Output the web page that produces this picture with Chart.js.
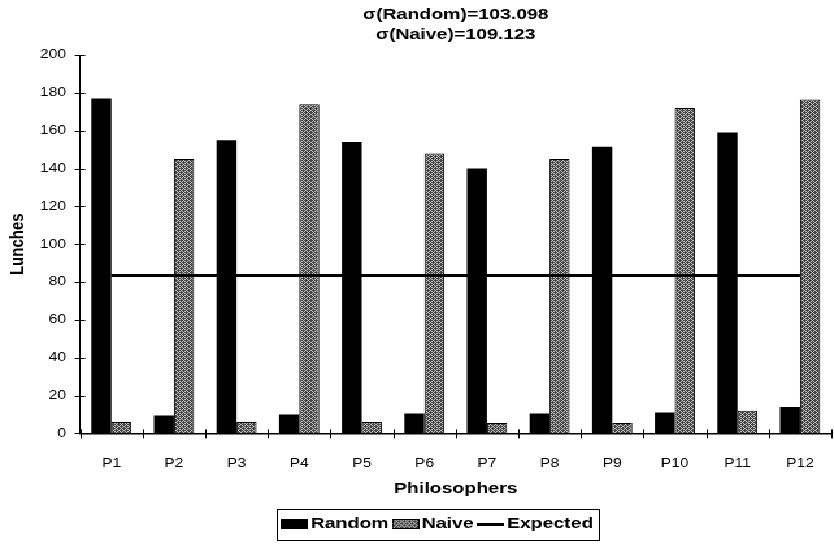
<!DOCTYPE html>
<html>
<head>
<meta charset="utf-8">
<script src="https://cdn.jsdelivr.net/npm/chart.js@4.4.1/dist/chart.umd.min.js"></script>
<style>
  html, body { margin: 0; padding: 0; background: #fff; overflow: hidden; }
  /* the chart is laid out narrow and widened horizontally, giving the broad lettering */
  #c { display: block; transform: scaleX(1.299); transform-origin: 0 0; image-rendering: pixelated; }
</style>
</head>
<body>
<canvas id="c" width="642" height="550"></canvas>
<script>
// ---- data ----
const philosophers = ['P1', 'P2', 'P3', 'P4', 'P5', 'P6', 'P7', 'P8', 'P9', 'P10', 'P11', 'P12'];
const randomLunches = [177, 9.5, 155, 10, 154, 10.5, 140, 10.5, 151.5, 11, 159, 14];
const naiveLunches = [6, 145, 6, 174, 6, 148, 5.5, 145, 5.5, 172, 12, 176.5];
const expectedLunches = [83.5, 83.5, 83.5, 83.5, 83.5, 83.5, 83.5, 83.5, 83.5, 83.5, 83.5, 83.5];
const titleLines = ['σ(Random)=103.098', 'σ(Naive)=109.123'];
const seriesNames = ['Random', 'Naive', 'Expected'];
const axisTitles = { x: 'Philosophers', y: 'Lunches' };

const FONT = "'Liberation Sans', Arial, Helvetica, sans-serif";

// grey dither fill for the Naive bars
function ditherPattern() {
  const p = document.createElement('canvas');
  p.width = 4; p.height = 4;
  const g = p.getContext('2d');
  g.fillStyle = '#bdbdbd';
  g.fillRect(0, 0, 4, 4);
  g.fillStyle = '#454545';
  [[0, 0], [2, 0], [1, 1], [3, 1], [0, 2], [2, 2], [1, 3], [3, 3], [3, 0], [1, 2]].forEach(([x, y]) => g.fillRect(x, y, 1, 1));
  return g.createPattern(p, 'repeat');
}
const naiveFill = ditherPattern();

// legend markers
function marker(w, h, fill, stroke) {
  const m = document.createElement('canvas');
  m.width = w; m.height = h;
  const g = m.getContext('2d');
  g.fillStyle = fill;
  g.fillRect(0, 0, w, h);
  if (stroke) { g.strokeStyle = stroke; g.lineWidth = 1; g.strokeRect(0.5, 0.5, w - 1, h - 1); }
  return m;
}
const randomMarker = marker(21, 10, '#000');
const naiveMarker = marker(21, 10, naiveFill, '#000');
const expectedMarker = marker(21, 3, '#000');

const MARKER_HALF = 10.5;        // half width of a legend marker
const LEGEND_BOX_WIDTH = 10;     // space reserved for the marker by the legend
const LEGEND_CENTER = 337;       // horizontal centre of the framed legend

// title over the plot, framed legend, tick marks crossing both axes
const chartDecor = {
  id: 'chartDecor',
  afterLayout(chart) {
    const t = chart.titleBlock;
    if (t) { t.left = chart.chartArea.left; t.right = chart.chartArea.right; }
    const lg = chart.legend;
    if (lg && lg.lineWidths) {
      const pad = lg.options.labels.padding;
      const start = (lg.left + pad + lg.right - lg.lineWidths[0]) / 2;
      const x0 = start - (MARKER_HALF - LEGEND_BOX_WIDTH / 2) - 3;
      const x1 = start + lg.lineWidths[0] - pad + 4;
      const shift = LEGEND_CENTER - (x0 + x1) / 2;
      lg.left += shift; lg.right += shift;
    }
  },
  afterDraw(chart) {
    const ctx = chart.ctx;
    const area = chart.chartArea;
    const xs = chart.scales.x, ys = chart.scales.y;
    ctx.save();
    ctx.strokeStyle = '#000';
    ctx.lineWidth = 1;
    ctx.beginPath();
    ys.ticks.forEach((tk) => {
      const py = Math.round(ys.getPixelForValue(tk.value)) + 0.5;
      ctx.moveTo(area.left - 4, py);
      ctx.lineTo(area.left + 4, py);
    });
    for (let i = 0; i <= philosophers.length; i++) {
      const px = Math.round(xs.getPixelForValue(i - 0.5)) + 0.5;
      ctx.moveTo(px, area.bottom - 4);
      ctx.lineTo(px, area.bottom + 5);
    }
    ctx.stroke();

    const boxes = chart.legend && chart.legend.legendHitBoxes;
    if (boxes && boxes.length) {
      const first = boxes[0], last = boxes[boxes.length - 1];
      const cy = first.top + 7.5;
      const x0 = Math.round(first.left + LEGEND_BOX_WIDTH / 2 - MARKER_HALF - 3) + 0.5;
      const x1 = Math.round(last.left + last.width + 4) + 0.5;
      ctx.strokeRect(x0, Math.round(cy - 15) + 0.5, x1 - x0, 31);
    }
    ctx.restore();
  }
};

Chart.defaults.color = '#000';
Chart.defaults.font.family = FONT;

new Chart(document.getElementById('c'), {
  type: 'bar',
  data: {
    labels: philosophers,
    datasets: [
      {
        label: seriesNames[0],
        data: randomLunches,
        backgroundColor: '#000',
        borderColor: '#000',
        borderWidth: 0,
        pointStyle: randomMarker,
        categoryPercentage: 0.64,
        barPercentage: 1.0,
        order: 2
      },
      {
        label: seriesNames[1],
        data: naiveLunches,
        backgroundColor: naiveFill,
        borderColor: '#000',
        borderWidth: 1,
        pointStyle: naiveMarker,
        categoryPercentage: 0.64,
        barPercentage: 1.0,
        order: 2
      },
      {
        type: 'line',
        label: seriesNames[2],
        data: expectedLunches,
        borderColor: '#000',
        backgroundColor: '#000',
        borderWidth: 3,
        pointRadius: 0,
        pointStyle: expectedMarker,
        fill: false,
        order: 1
      }
    ]
  },
  options: {
    responsive: false,
    animation: false,
    devicePixelRatio: 1,
    layout: { padding: { top: 0, left: 1, right: 2, bottom: 8.5 } },
    plugins: {
      tooltip: { enabled: false },
      title: {
        display: true,
        text: titleLines,
        color: '#000',
        font: { family: FONT, size: 15, weight: 'bold', lineHeight: '19.5px' },
        padding: { top: 5.5, bottom: 10.5 }
      },
      legend: {
        display: true,
        position: 'bottom',
        labels: {
          usePointStyle: true,
          pointStyleWidth: LEGEND_BOX_WIDTH,
          boxHeight: 10,
          padding: 8,
          color: '#000',
          font: { family: FONT, size: 15, weight: 'bold' },
          sort: (a, b) => a.datasetIndex - b.datasetIndex
        }
      }
    },
    scales: {
      x: {
        offset: true,
        grid: { display: true, drawOnChartArea: false, offset: true, color: '#000', tickLength: 15, tickColor: 'rgba(0,0,0,0)' },
        border: { display: true, color: '#000', width: 1.5 },
        ticks: { color: '#000', padding: 7.6, font: { family: FONT, size: 12 }, maxRotation: 0, autoSkip: false },
        title: {
          display: true,
          text: axisTitles.x,
          color: '#000',
          font: { family: FONT, size: 15, weight: 'bold' },
          padding: { top: 2, bottom: 10.5 }
        }
      },
      y: {
        min: 0,
        max: 200,
        grid: { display: true, drawOnChartArea: false, color: '#000', tickLength: 4, tickColor: 'rgba(0,0,0,0)' },
        border: { display: true, color: '#000', width: 1 },
        ticks: { stepSize: 20, color: '#000', padding: 6.8, font: { family: FONT, size: 12 } },
        title: {
          display: true,
          text: axisTitles.y,
          color: '#000',
          font: { family: FONT, size: 15, weight: 'bold' },
          padding: { top: 3.8, bottom: 1.2 }
        }
      }
    }
  },
  plugins: [chartDecor]
});
</script>
</body>
</html>
